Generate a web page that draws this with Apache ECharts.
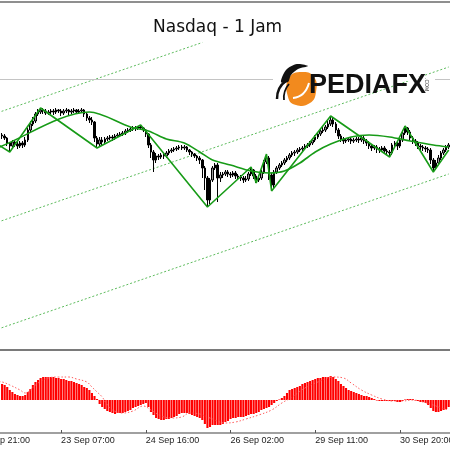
<!DOCTYPE html>
<html>
<head>
<meta charset="utf-8">
<script src="https://cdn.jsdelivr.net/npm/echarts@6/dist/echarts.min.js"></script>
<style>
html, body { margin: 0; padding: 0; background: #fff; }
#chart { width: 450px; height: 450px; }
</style>
</head>
<body>
<div id="chart"></div>
<script>
// hourly bars; the first LEAD slots are empty so the first date label can start off-screen
const LEAD = 12
const firstOpen = 24860

const close = [
  24856, 24848, 24828, 24816, 24832, 24824, 24816, 24828, 24820, 24840,
  24880, 24904, 24916, 24944, 24952, 24960, 24956, 24948, 24952, 24956,
  24952, 24960, 24956, 24948, 24956, 24960, 24952, 24956, 24960, 24952,
  24956, 24960, 24944, 24928, 24920, 24912, 24848, 24824, 24840, 24832,
  24844, 24848, 24852, 24848, 24856, 24860, 24864, 24868, 24876, 24880,
  24884, 24888, 24888, 24892, 24888, 24880, 24864, 24820, 24792, 24760,
  24776, 24772, 24780, 24776, 24788, 24796, 24800, 24804, 24808, 24812,
  24808, 24812, 24800, 24792, 24784, 24776, 24768, 24760, 24728, 24688,
  24600, 24680, 24728, 24740, 24688, 24700, 24704, 24712, 24704, 24700,
  24708, 24696, 24692, 24688, 24680, 24684, 24704, 24720, 24696, 24680,
  24688, 24712, 24752, 24768, 24700, 24660, 24712, 24728, 24740, 24748,
  24760, 24768, 24780, 24788, 24792, 24800, 24804, 24808, 24816, 24820,
  24828, 24840, 24852, 24864, 24876, 24880, 24892, 24904, 24920, 24904,
  24880, 24856, 24844, 24836, 24840, 24844, 24836, 24840, 24844, 24840,
  24848, 24836, 24828, 24816, 24808, 24812, 24804, 24800, 24808, 24796,
  24792, 24788, 24820, 24828, 24816, 24840, 24868, 24888, 24872, 24848,
  24836, 24828, 24816, 24812, 24808, 24804, 24800, 24760, 24728, 24748,
  24768, 24788, 24800, 24812, 24820
]

const high = [
  24868, 24864, 24852, 24832, 24840, 24840, 24832, 24836, 24836, 24852,
  24888, 24916, 24932, 24952, 24964, 24968, 24968, 24964, 24960, 24964,
  24964, 24968, 24964, 24964, 24964, 24968, 24964, 24964, 24968, 24964,
  24964, 24968, 24964, 24952, 24936, 24932, 24916, 24856, 24852, 24852,
  24852, 24856, 24860, 24860, 24864, 24868, 24872, 24876, 24884, 24888,
  24892, 24896, 24896, 24896, 24900, 24892, 24884, 24868, 24828, 24800,
  24788, 24784, 24788, 24788, 24796, 24804, 24808, 24812, 24816, 24820,
  24820, 24820, 24816, 24804, 24796, 24788, 24780, 24776, 24764, 24736,
  24696, 24688, 24736, 24748, 24748, 24712, 24712, 24720, 24720, 24712,
  24716, 24716, 24704, 24700, 24696, 24696, 24712, 24732, 24724, 24704,
  24700, 24720, 24760, 24784, 24776, 24708, 24720, 24736, 24748, 24756,
  24768, 24776, 24788, 24796, 24800, 24808, 24812, 24816, 24824, 24828,
  24836, 24848, 24860, 24872, 24884, 24892, 24900, 24916, 24936, 24928,
  24912, 24888, 24864, 24852, 24848, 24852, 24852, 24848, 24852, 24852,
  24856, 24856, 24844, 24836, 24824, 24820, 24820, 24812, 24816, 24816,
  24804, 24800, 24828, 24836, 24836, 24852, 24880, 24896, 24892, 24880,
  24856, 24844, 24836, 24824, 24820, 24816, 24812, 24808, 24768, 24760,
  24780, 24796, 24808, 24820, 24828
]

const low = [
  24844, 24840, 24816, 24792, 24808, 24812, 24804, 24808, 24808, 24812,
  24832, 24872, 24896, 24908, 24936, 24944, 24944, 24940, 24940, 24944,
  24940, 24944, 24948, 24936, 24940, 24948, 24940, 24944, 24948, 24944,
  24944, 24948, 24932, 24916, 24908, 24900, 24832, 24808, 24816, 24820,
  24824, 24836, 24840, 24836, 24840, 24848, 24852, 24856, 24860, 24868,
  24872, 24876, 24876, 24880, 24880, 24872, 24852, 24808, 24768, 24712,
  24748, 24760, 24764, 24764, 24768, 24780, 24788, 24792, 24796, 24800,
  24800, 24800, 24792, 24780, 24772, 24768, 24756, 24744, 24688, 24640,
  24572, 24584, 24672, 24720, 24592, 24672, 24688, 24696, 24692, 24688,
  24692, 24684, 24680, 24676, 24668, 24672, 24676, 24696, 24684, 24668,
  24672, 24680, 24704, 24744, 24680, 24636, 24648, 24704, 24720, 24732,
  24740, 24752, 24760, 24772, 24776, 24784, 24792, 24796, 24800, 24808,
  24812, 24820, 24832, 24844, 24856, 24868, 24872, 24884, 24896, 24892,
  24868, 24844, 24832, 24824, 24828, 24832, 24824, 24828, 24832, 24828,
  24832, 24824, 24816, 24804, 24796, 24800, 24788, 24788, 24796, 24784,
  24780, 24772, 24780, 24808, 24800, 24808, 24832, 24860, 24860, 24836,
  24824, 24816, 24804, 24800, 24796, 24792, 24788, 24744, 24712, 24720,
  24740, 24760, 24780, 24792, 24804
]

const macdHist = [
  32, 30, 26, 20, 16, 12, 10, 8, 8, 10,
  16, 22, 30, 36, 40, 44, 46, 46, 46, 46,
  46, 44, 44, 42, 42, 40, 38, 38, 36, 34,
  32, 30, 26, 24, 20, 14, 8, 2, -8, -14,
  -18, -22, -24, -26, -28, -26, -26, -26, -24, -22,
  -20, -16, -14, -12, -10, -8, -6, -14, -24, -30,
  -36, -38, -40, -40, -38, -38, -36, -34, -32, -28,
  -26, -26, -26, -28, -30, -32, -34, -36, -40, -48,
  -56, -54, -50, -50, -50, -50, -48, -44, -42, -38,
  -36, -36, -34, -34, -34, -32, -30, -28, -28, -26,
  -24, -20, -18, -16, -14, -10, -6, -2, 1, 4,
  8, 14, 20, 22, 24, 26, 28, 32, 34, 36,
  38, 40, 42, 44, 44, 46, 46, 46, 48, 46,
  42, 38, 32, 28, 24, 20, 18, 16, 14, 12,
  10, 8, 8, 6, 4, 2, -1, -2, -2, -2,
  -2, -2, -2, -2, -4, -4, -2, 1, 2, 2,
  2, -1, -2, -4, -4, -6, -10, -16, -22, -24,
  -24, -22, -20, -18, -14
]

// [bar index, value]
const signalPts = [
  [8, 38], [12, 36], [15, 30], [19, 20], [21, 14], [23, 20], [26, 34], [30, 44],
  [34, 46], [38, 46], [41, 42], [45, 36], [47, 26], [49, 16], [51, 6], [53, -10],
  [55, -20], [59, -26], [63, -22], [67, -12], [70, -20], [74, -32], [78, -36],
  [82, -34], [85, -26], [89, -28], [93, -36], [99, -46], [103, -44], [107, -38],
  [112, -30], [117, -20], [121, -6], [125, 6], [130, 24], [135, 36], [141, 46],
  [145, 44], [148, 34], [152, 20], [156, 10], [160, 2], [164, -2], [168, -2],
  [172, 0], [176, -4], [180, -10], [183, -16], [186, -20]
]

const zigzagPts = [
  [5, 24856], [15, 24792], [27, 24968], [49, 24808], [66, 24900], [92, 24572],
  [109, 24732], [111, 24668], [115, 24784], [117, 24636], [140, 24936],
  [163, 24772], [169, 24896], [180, 24712], [186, 24800]
]

const maPts = [
  [0, 24764], [11, 24812], [46, 24952], [62, 24892], [69, 24876], [76, 24844],
  [83, 24828], [89, 24792], [94, 24760], [101, 24740], [109, 24716], [116, 24708],
  [122, 24716], [128, 24748], [134, 24792], [140, 24824], [148, 24852],
  [155, 24860], [163, 24852], [171, 24836], [180, 24820], [186, 24812]
]

const channelTop = [[0, 24913], [90, 25230]]
const channelMid = [[0, 24475], [186, 25132]]
const channelBot = [[0, 24047], [186, 24704]]
const levelPrice = 25084

const tickLabels = {
  2: '22 Sep 21:00',
  35: '23 Sep 07:00',
  68: '24 Sep 16:00',
  101: '26 Sep 02:00',
  134: '29 Sep 11:00',
  167: '30 Sep 20:00'
}

const cats = Array.from({ length: LEAD + close.length }, (_, i) => String(i))
const candles = cats.map((_, i) => {
  const j = i - LEAD
  if (j < 0) return '-'
  const o = j ? close[j - 1] : firstOpen
  return [o, close[j], low[j], high[j]]
})
const hist = cats.map((_, i) => (i < LEAD ? '-' : macdHist[i - LEAD]))

const isTick = (i) => tickLabels[i] !== undefined

const green = '#179b17'
const dotGreen = '#5dbb5d'

const chart = echarts.init(document.getElementById('chart'), null, { renderer: 'canvas' })
chart.setOption({
  animation: false,
  backgroundColor: '#fff',
  title: {
    text: 'Nasdaq - 1 Jam',
    left: 148, top: 14,
    textStyle: { fontFamily: 'DejaVu Sans', fontSize: 17, fontWeight: 'normal', color: '#111' }
  },
  grid: [
    { left: -30, right: 0, top: 2, height: 348, containLabel: false, outerBoundsMode: 'none' },
    { left: -30, right: 0, top: 352, height: 81, containLabel: false, outerBoundsMode: 'none' }
  ],
  xAxis: [
    {
      type: 'category', gridIndex: 0, data: cats,
      axisLine: { onZero: false, lineStyle: { color: '#7a7a7a', width: 2 } },
      axisTick: { show: false }, axisLabel: { show: false }, splitLine: { show: false }
    },
    {
      type: 'category', gridIndex: 1, data: cats,
      axisLine: { onZero: false, lineStyle: { color: '#808080', width: 1.5 } },
      axisTick: {
        show: true, inside: true, length: 3, alignWithLabel: true,
        interval: isTick, lineStyle: { color: '#555' }
      },
      axisLabel: {
        interval: isTick,
        formatter: (v, i) => tickLabels[i] || '',
        align: 'left', margin: 3,
        fontSize: 9, fontFamily: 'Liberation Sans', color: '#222'
      },
      splitLine: { show: false }
    },
    {
      type: 'category', gridIndex: 0, position: 'top', data: cats,
      axisLine: { lineStyle: { color: '#6a6a6a', width: 1.5 } },
      axisTick: { show: false }, axisLabel: { show: false }
    }
  ],
  yAxis: [
    { type: 'value', gridIndex: 0, min: 24000, max: 25392, show: false, splitLine: { show: false } },
    { type: 'value', gridIndex: 1, min: -66, max: 96, show: false, splitLine: { show: false } }
  ],
  series: [
    {
      type: 'line', data: channelTop, symbol: 'none', silent: true, z: 1,
      lineStyle: { color: dotGreen, width: 1, type: [2, 2] }
    },
    {
      type: 'line', data: channelMid, symbol: 'none', silent: true, z: 1,
      lineStyle: { color: dotGreen, width: 1, type: [2, 2] }
    },
    {
      type: 'line', data: channelBot, symbol: 'none', silent: true, z: 1,
      lineStyle: { color: dotGreen, width: 1, type: [2, 2] }
    },
    {
      type: 'candlestick', data: candles, barWidth: 2, z: 2,
      itemStyle: { color: '#9a9a9a', color0: '#000', borderColor: '#000', borderColor0: '#000', borderWidth: 1 },
      markLine: {
        symbol: 'none', silent: true, label: { show: false },
        lineStyle: { color: '#c4c4c4', width: 1, type: 'solid' },
        data: [{ yAxis: levelPrice }]
      }
    },
    {
      type: 'line', data: maPts, symbol: 'none', smooth: 0.3, z: 3,
      lineStyle: { color: green, width: 1.6 }
    },
    {
      type: 'line', data: zigzagPts, symbol: 'none', z: 4,
      lineStyle: { color: green, width: 1.6 }
    },
    {
      type: 'bar', xAxisIndex: 1, yAxisIndex: 1, data: hist, barWidth: '82%',
      itemStyle: { color: '#ff0000' }
    },
    {
      type: 'line', xAxisIndex: 1, yAxisIndex: 1, data: signalPts, symbol: 'none', smooth: 0.4, z: 3,
      lineStyle: { color: '#ff5c5c', width: 1, type: [1.5, 2] }
    }
  ],
  graphic: [
    { type: 'rect', shape: { x: 273, y: 77, width: 162, height: 4 }, style: { fill: '#fff' }, z: 50 },
    {
      type: 'polygon', z: 51,
      shape: { points: [[289, 78], [302, 72], [314, 77], [316, 92], [310, 103], [296, 105], [288, 97]], smooth: 0.5 },
      style: { fill: '#f28a1e' }
    },
    {
      type: 'bezierCurve', z: 52,
      shape: { x1: 293, y1: 98, cpx1: 305, cpy1: 97, x2: 309, y2: 83 },
      style: { fill: 'none', stroke: '#fff', lineWidth: 2 }
    },
    {
      type: 'polygon', z: 52,
      shape: { points: [[281, 82], [286, 70], [297, 64], [308, 66], [298, 69], [291, 75], [288, 82]], smooth: 0.3 },
      style: { fill: '#111' }
    },
    {
      type: 'bezierCurve', z: 52,
      shape: { x1: 286, y1: 81, cpx1: 277, cpy1: 87, x2: 277, y2: 99 },
      style: { fill: 'none', stroke: '#111', lineWidth: 2.5 }
    },
    {
      type: 'bezierCurve', z: 52,
      shape: { x1: 289, y1: 84, cpx1: 283, cpy1: 91, x2: 284, y2: 100 },
      style: { fill: 'none', stroke: '#111', lineWidth: 1.8 }
    },
    {
      type: 'text', x: 309, y: 72, z: 52,
      style: { text: 'PEDIAFX', fontSize: 27, fontWeight: 'bold', fontFamily: 'Liberation Sans', fill: '#111' }
    },
    {
      type: 'text', x: 429, y: 78, rotation: -Math.PI / 2, z: 52,
      style: { text: '.COM', fontSize: 5, fontFamily: 'Liberation Sans', fill: '#333' }
    }
  ]
})
</script>
</body>
</html>
